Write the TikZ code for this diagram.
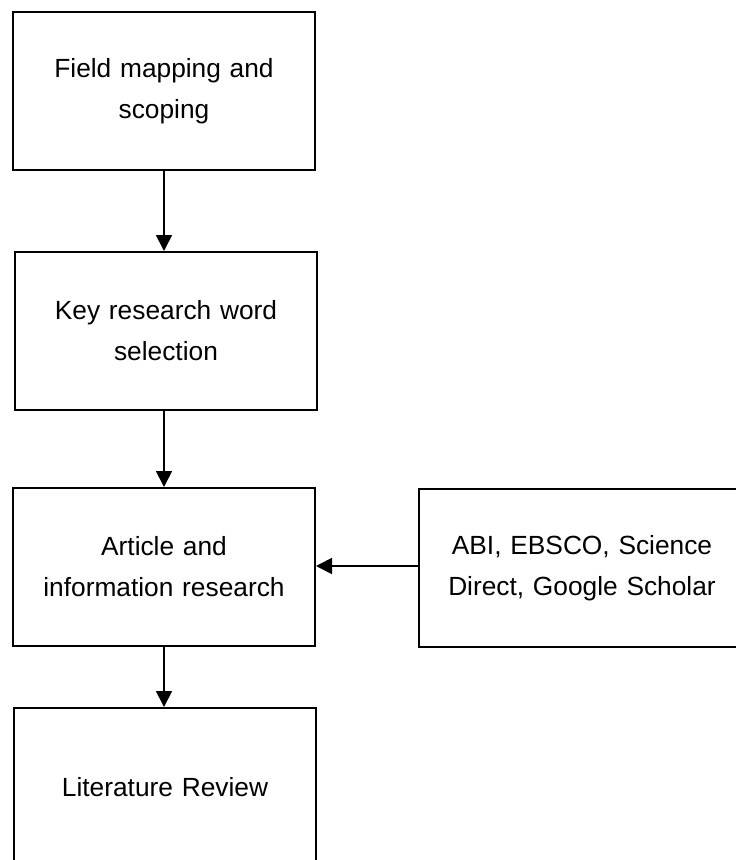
\documentclass[tikz,border=0pt]{standalone}
\usepackage{fontspec}
\setmainfont{Liberation Sans}
\usetikzlibrary{arrows.meta}
\begin{document}
\begin{tikzpicture}[x=1pt,y=-1pt,
  stepbox/.style={draw, line width=2pt, minimum width=302pt, minimum height=158pt,
    inner sep=0pt, text width=290pt, align=center,
    font=\fontsize{26.3}{41}\selectfont},
  flow/.style={line width=1.8pt, -{Triangle[length=16pt,width=16pt]}}]
  \useasboundingbox (0,0) rectangle (736,860);
  \clip (0,0) rectangle (736,860);
  \node[stepbox] (scope) at (164,91) {Field mapping and\\scoping};
  \node[stepbox] (keys) at (166,331) {Key research word\\selection};
  \node[stepbox] (search) at (164,567) {Article and\\information research};
  \node[stepbox, minimum width=326pt, text width=310pt] (db) at (582,568) {ABI, EBSCO, Science\\Direct, Google Scholar};
  \node[stepbox] (review) at (165,787) {Literature Review};
  \draw[flow] (scope.south -| 164,0) -- (keys.north -| 164,0);
  \draw[flow] (keys.south -| 164,0) -- (search.north -| 164,0);
  \draw[flow] (db.west |- 0,566) -- (search.east |- 0,566);
  \draw[flow] (search.south -| 164,0) -- (review.north -| 164,0);
\end{tikzpicture}
\end{document}
